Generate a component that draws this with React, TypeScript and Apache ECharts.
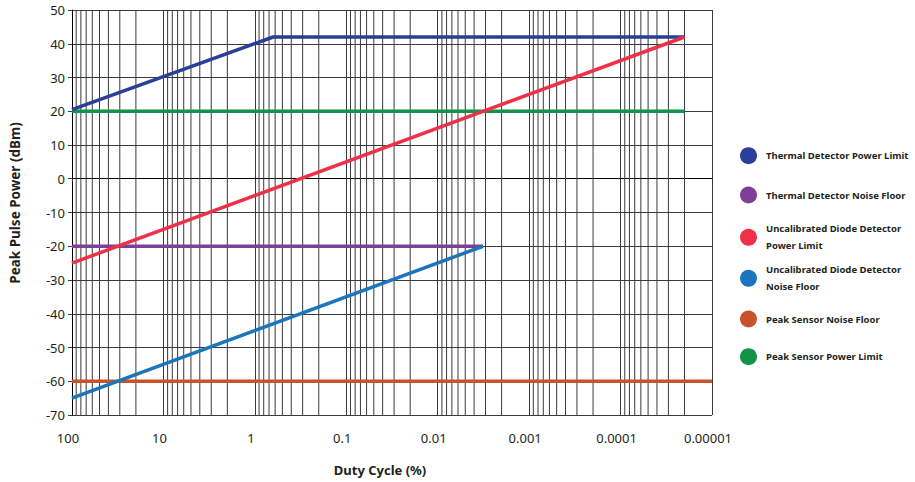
import React, { useEffect, useRef } from "react";
import * as echarts from "echarts";

// ---- data ----
const xTickLabels = ["0.00001", "0.0001", "0.001", "0.01", "0.1", "1", "10", "100"]; // 10^-5 .. 10^2
const yTickValues = [-70, -60, -50, -40, -30, -20, -10, 0, 10, 20, 30, 40, 50];

const seriesNames = [
  "Thermal Detector Power Limit",
  "Thermal Detector Noise Floor",
  "Uncalibrated Diode Detector Power Limit",
  "Uncalibrated Diode Detector Noise Floor",
  "Peak Sensor Noise Floor",
  "Peak Sensor Power Limit",
];
const seriesColors = ["#2a3f97", "#7e3f98", "#ee3049", "#1b75bb", "#c8532a", "#139349"];

const thermalPowerX = [100, 0.63, 0.00002];
const thermalPowerY = [20.5, 42, 42];
const thermalNoiseX = [100, 0.0032];
const thermalNoiseY = [-20, -20];
const diodePowerX = [100, 0.00002];
const diodePowerY = [-25, 42];
const diodeNoiseX = [100, 0.0032];
const diodeNoiseY = [-65, -20];
const peakNoiseX = [100, 0.00001];
const peakNoiseY = [-60, -60];
const peakPowerX = [100, 0.00002];
const peakPowerY = [20, 20];

const decades = [0.00001, 0.0001, 0.001, 0.01, 0.1, 1, 10];
const minorMultipliers = [2, 3, 4, 5, 6, 7, 8, 9];
const yMin = -70;
const yMax = 50;

// legend layout (icon centre y)
const legendCentersY = [155.7, 195, 237.3, 278.3, 319, 356.7];

const FONT = "'Noto Sans', 'Open Sans', sans-serif";
const TEXT = "#231f20";
const GRID = "#3a3a3a";

const zip = (xs: number[], ys: number[]) => xs.map((x, i) => [x, ys[i]]);

export default function App() {
  const ref = useRef<HTMLDivElement>(null);
  useEffect(() => {
    document.body.style.margin = "0";
    if (!ref.current) return;
    const chart = echarts.init(ref.current, undefined, { renderer: "svg" });

    // minor vertical grid lines as broken line segments
    const minorData: any[] = [];
    decades.forEach((d) =>
      minorMultipliers.forEach((m) => {
        const v = +(d * m).toPrecision(3);
        minorData.push([v, yMin], [v, yMax], [v, "-"]);
      })
    );

    const mk = (idx: number, xs: number[], ys: number[], z: number) => ({
      name: seriesNames[idx],
      type: "line",
      data: zip(xs, ys),
      symbol: "none",
      z,
      lineStyle: { color: seriesColors[idx], width: 3.5 },
      itemStyle: { color: seriesColors[idx] },
      emphasis: { disabled: true },
    });

    const legends = seriesNames.map((name, i) => {
      const twoLine = name.startsWith("Uncalibrated");
      const top = twoLine ? legendCentersY[i] - 25.5 : legendCentersY[i] - 8.5;
      return {
        orient: "vertical",
        left: 740,
        top,
        padding: 0,
        itemWidth: 25,
        itemHeight: 17,
        icon: "circle",
        data: [
          {
            name,
            textStyle: twoLine ? { padding: [17, 0, 0, 0] } : {},
          },
        ],
        formatter: (n: string) => n.replace("Diode Detector ", "Diode Detector\n"),
        textStyle: {
          color: TEXT,
          fontFamily: FONT,
          fontWeight: "bold",
          fontSize: 9.5,
          lineHeight: 17,
        },
      };
    });

    chart.setOption({
      animation: false,
      backgroundColor: "#ffffff",
      grid: { left: 68, right: 203, top: 10, bottom: 67, containLabel: false },
      legend: legends,
      xAxis: {
        type: "log",
        logBase: 10,
        min: 0.00001,
        max: 100,
        inverse: true,
        splitNumber: 7,
        name: "Duty Cycle (%)",
        nameLocation: "middle",
        nameGap: 48,
        nameTextStyle: {
          color: TEXT,
          fontFamily: FONT,
          fontWeight: "bold",
          fontSize: 13,
          padding: [0, 24, 0, 0],
        },
        axisLine: { show: true, lineStyle: { color: "#000", width: 1 } },
        axisTick: { show: true, length: 3, lineStyle: { color: GRID } },
        axisLabel: {
          color: TEXT,
          fontFamily: FONT,
          fontSize: 13,
          margin: 16,
          padding: [0, 8, 0, 0],
          formatter: (v: number) => xTickLabels[Math.round(Math.log10(v)) + 5] ?? "",
        },
        splitLine: { show: true, lineStyle: { color: GRID, width: 1 } },
        minorTick: { show: false },
      },
      yAxis: {
        type: "value",
        min: yMin,
        max: yMax,
        interval: 10,
        name: "Peak Pulse Power (dBm)",
        nameLocation: "middle",
        nameGap: 50,
        nameTextStyle: {
          color: TEXT,
          fontFamily: FONT,
          fontWeight: "bold",
          fontSize: 13.5,
          padding: [0, 0, 0, 19],
        },
        axisLine: { show: true, lineStyle: { color: "#000", width: 1 } },
        axisTick: { show: true, length: 4, lineStyle: { color: GRID } },
        axisLabel: {
          color: TEXT,
          fontFamily: FONT,
          fontSize: 13,
          margin: 7,
          formatter: (v: number) => (yTickValues.includes(v) ? String(v) : ""),
        },
        splitLine: { show: true, lineStyle: { color: GRID, width: 1 } },
      },
      series: [
        {
          name: "grid-minor",
          type: "line",
          data: minorData,
          symbol: "none",
          connectNulls: false,
          z: 1,
          silent: true,
          lineStyle: { color: GRID, width: 1 },
          emphasis: { disabled: true },
        },
        mk(4, peakNoiseX, peakNoiseY, 2),
        mk(5, peakPowerX, peakPowerY, 2),
        mk(1, thermalNoiseX, thermalNoiseY, 2),
        mk(0, thermalPowerX, thermalPowerY, 2),
        mk(2, diodePowerX, diodePowerY, 2),
        mk(3, diodeNoiseX, diodeNoiseY, 2),
      ],
    });
    return () => chart.dispose();
  }, []);
  return <div ref={ref} style={{ width: 915, height: 482 }} />;
}
